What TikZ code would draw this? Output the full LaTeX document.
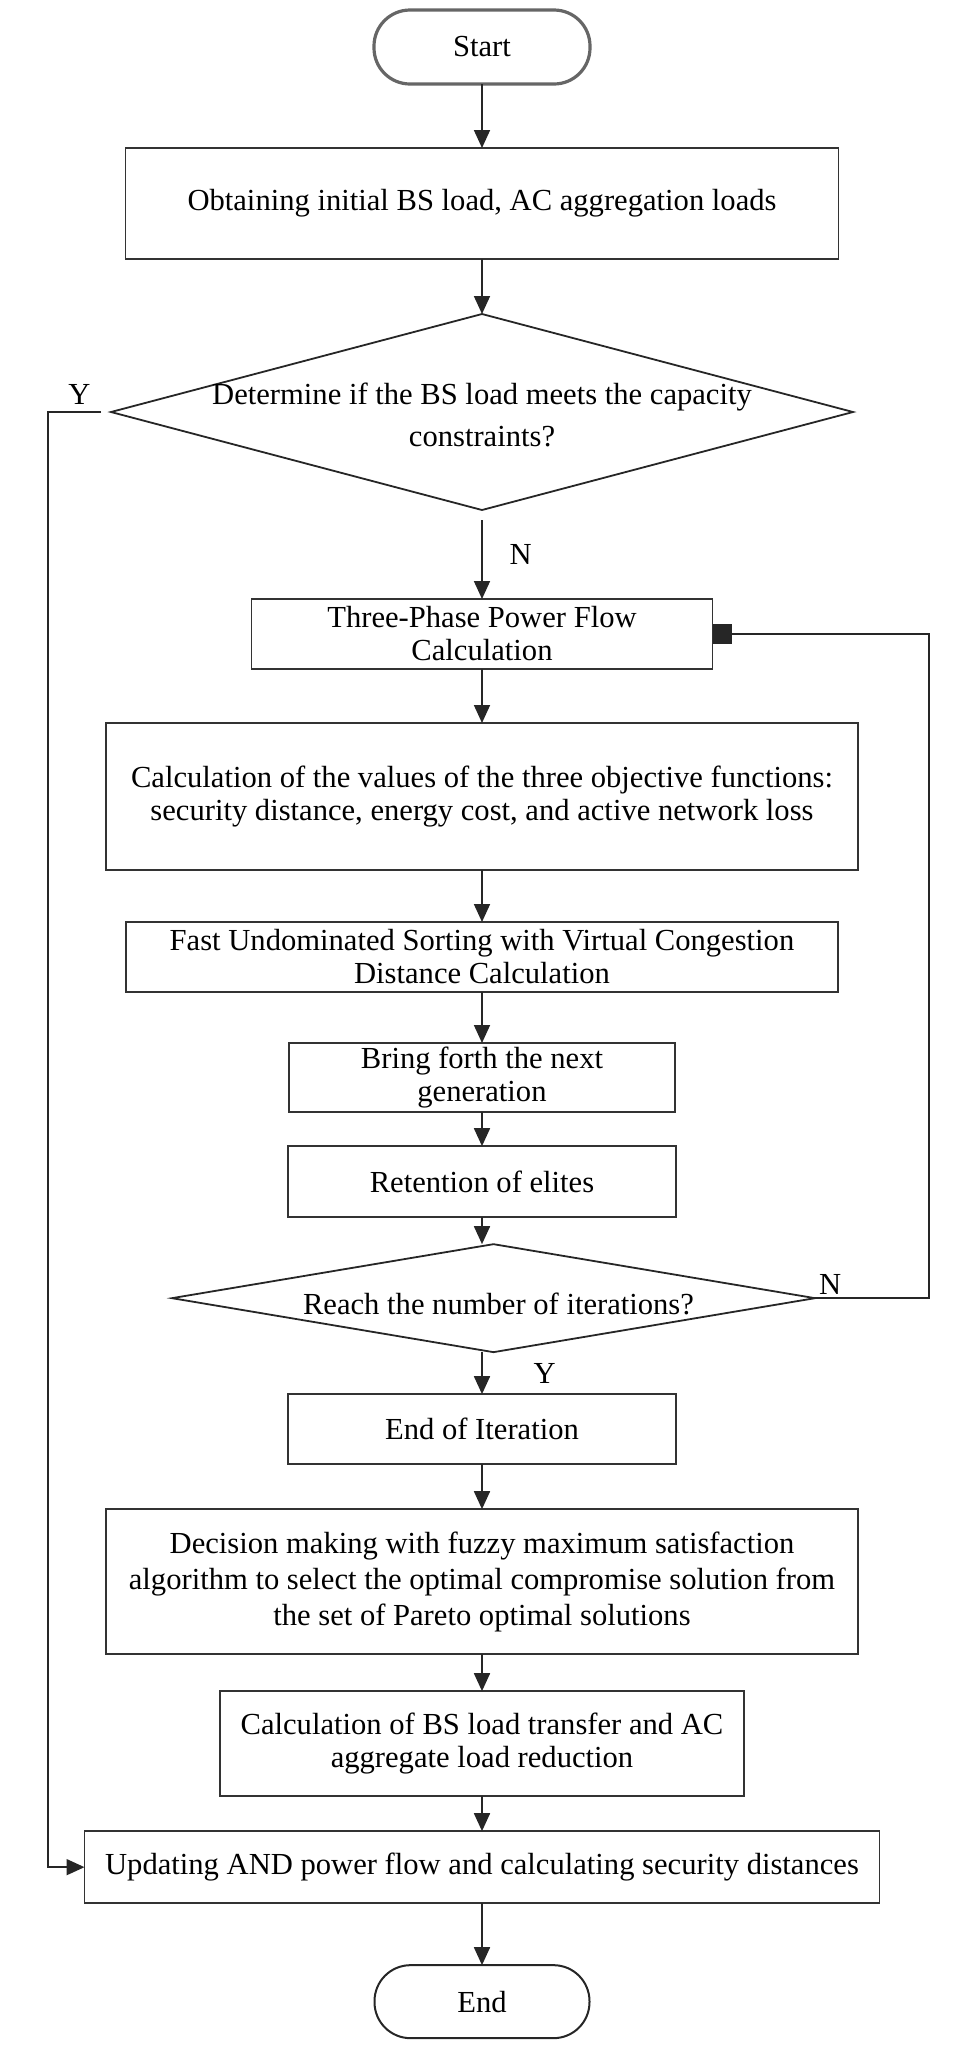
\documentclass[tikz,border=0pt]{standalone}
\usepackage{fontspec}
\setmainfont{Liberation Serif}
\usetikzlibrary{arrows.meta, positioning, shapes.geometric}

\begin{document}
\begin{tikzpicture}[
    font=\fontsize{15.3}{16.5}\selectfont,
    >={Triangle[length=9pt, width=8pt]},
    block/.style={draw=black!80, line width=0.8pt, outer sep=0pt, align=center, inner sep=2pt},
    terminal/.style={draw=black!85, line width=1pt, outer sep=0pt, rounded corners=18pt, minimum width=107.5pt, minimum height=36.5pt},
    decide/.style={diamond, draw=black!85, line width=0.9pt, outer sep=0pt, inner sep=0pt},
    line/.style={->, line width=0.9pt, draw=black!85},
    feedback/.style={-{Square[length=9.5pt, width=10pt]}, line width=1pt, draw=black!85}
]
\useasboundingbox (0,0) rectangle (484pt,-1026.5pt);

% Start
\node[terminal, line width=1.6pt, draw=black!60, minimum width=108pt, minimum height=37pt] (start) at (241pt,-23.5pt) {Start};

% Initial loads
\node[block, minimum width=356.5pt, minimum height=55.5pt, below=32pt of start] (loadinit)
{Obtaining initial BS load, AC aggregation loads};

% Capacity check
\node[decide, minimum width=371pt, minimum height=98pt, below=27.5pt of loadinit] (capcheck) {};
\node[align=center, font=\fontsize{15.3}{21}\selectfont, yshift=-1.5pt] (captext) at (capcheck)
{Determine if the BS load meets the capacity\\constraints?};

% Optimisation loop
\node[block, minimum width=230.5pt, minimum height=35pt, below=44.5pt of capcheck] (flow)
{Three-Phase Power Flow\\Calculation};
\node[block, minimum width=376pt, minimum height=73.5pt, below=27pt of flow] (objective)
{Calculation of the values of the three objective functions:\\security distance, energy cost, and active network loss};
\node[block, minimum width=356pt, minimum height=35pt, below=26pt of objective] (sorting)
{Fast Undominated Sorting with Virtual Congestion\\Distance Calculation};
\node[block, minimum width=193pt, minimum height=34.5pt, below=25.5pt of sorting] (nextgen)
{Bring forth the next\\generation};
\node[block, minimum width=194pt, minimum height=35.5pt, below=17pt of nextgen] (elite)
{Retention of elites};

% Iteration check
\node[decide, minimum width=321.5pt, minimum height=54pt, below=13.5pt of elite, xshift=5.75pt] (itercheck) {};
\node[yshift=-3pt, xshift=2.5pt] (itertext) at (itercheck) {Reach the number of iterations?};

% Decision making
\node[block, minimum width=194pt, minimum height=35pt, below=21pt of itercheck, xshift=-5.75pt] (iterend)
{End of Iteration};
\node[block, minimum width=376pt, minimum height=72.5pt, below=22.5pt of iterend,
      font=\fontsize{15.3}{18}\selectfont] (decision)
{Decision making with fuzzy maximum satisfaction\\algorithm to select the optimal compromise solution from\\the set of Pareto optimal solutions};
\node[block, minimum width=262pt, minimum height=52.5pt, below=18.5pt of decision] (transfer)
{Calculation of BS load transfer and AC\\aggregate load reduction};
\node[block, minimum width=397.5pt, minimum height=36pt, below=17.5pt of transfer] (update)
{Updating AND power flow and calculating security distances};

% End
\node[terminal, below=31pt of update] (stop) {End};

% Connections
\draw[line] (start) -- (loadinit);
\draw[line] (loadinit) -- (capcheck);
\draw[line, shorten <=5pt] (capcheck) -- node[right=10pt] {N} (flow);
\draw[line] (flow) -- (objective);
\draw[line] (objective) -- (sorting);
\draw[line] (sorting) -- (nextgen);
\draw[line] (nextgen) -- (elite);
\draw[line] (elite) -- (elite |- itercheck.north);
\draw[line] (itercheck.south -| iterend) -- node[right=22pt] {Y} (iterend);
\draw[line] (iterend) -- (decision);
\draw[line] (decision) -- (transfer);
\draw[line] (transfer) -- (update);
\draw[line] (update) -- (stop);

% Loop back when iterations are not reached
\draw[feedback] (itercheck.east) -- node[pos=0, above right, inner sep=1.5pt] {N} ++(57pt,0) |- (flow.east);

% Skip when capacity is met
\draw[line, shorten <=5pt] (capcheck.west) -- node[above] {Y} ++(-31.5pt,0) |- (update.west);

\end{tikzpicture}
\end{document}
